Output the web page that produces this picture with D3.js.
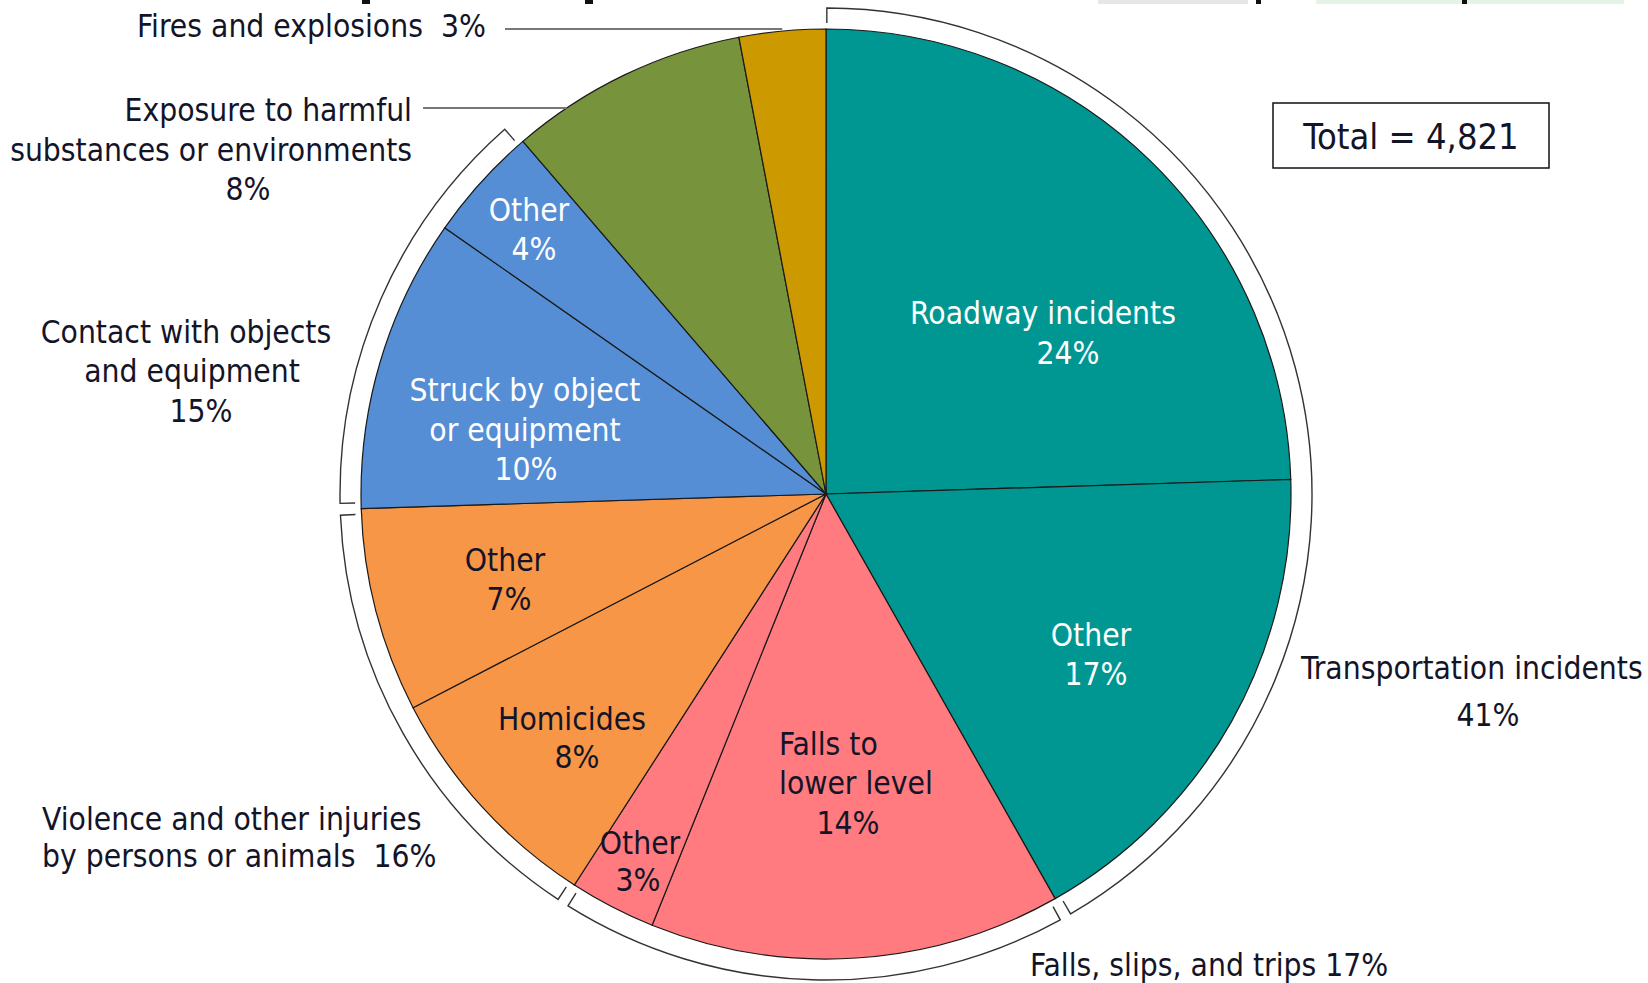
<!DOCTYPE html>
<html lang="en">
<head>
  <meta charset="UTF-8">
  <title>Fatal work injuries by event</title>
  <script src="https://d3js.org/d3.v7.min.js"></script>
  <style>
    body { margin: 0; background: #fff; }
    svg { display: block; }
    text {
      font-family: Tahoma, "DejaVu Sans Condensed", "DejaVu Sans", sans-serif;
      font-size: 31.5px;
      fill: #141428;
    }
    .slice { stroke: #1a1a1a; stroke-width: 1.2px; }
    .bracket { fill: none; stroke: #333; stroke-width: 1.4px; }
    .leader { fill: none; stroke: #777; stroke-width: 1.8px; }
  </style>
</head>
<body>
<svg width="1648" height="983"></svg>

<script>
  // ---- data ----
  const groups = ["Transportation incidents", "Falls, slips, and trips",
    "Violence and other injuries by persons or animals", "Contact with objects and equipment",
    "Exposure to harmful substances or environments", "Fires and explosions"];
  const groupPct = [41, 17, 16, 15, 8, 3];
  const groupColors = ["#009691", "#FF7B7F", "#F79646", "#558ED5", "#77933C", "#CC9900"];
  const bracketed = [0, 1, 2, 3]; // groups that get an outer bracket

  const slices = ["Roadway incidents", "Other", "Falls to lower level", "Other", "Homicides",
    "Other", "Struck by object or equipment", "Other",
    "Exposure to harmful substances or environments", "Fires and explosions"];
  const sliceGroup = [0, 0, 1, 1, 2, 2, 3, 3, 4, 5];
  const sliceValues = [24.5, 17.3, 14.3, 3.0, 8.3, 7.1, 10.2, 4.0, 8.3, 3.0];
  const slicePct = [24, 17, 14, 3, 8, 7, 10, 4, 8, 3];
  const total = 4821;

  const svg = d3.select("svg");
  const cx = 826, cy = 494, r = 465;
  const bracketR = 486, tickLen = 15;

  const g = svg.append("g").attr("transform", `translate(${cx},${cy})`);

  const pie = d3.pie().sort(null).value((d, i) => sliceValues[i]);
  const arcs = pie(slices);
  const arc = d3.arc().innerRadius(0).outerRadius(r);

  g.selectAll("path.slice")
    .data(arcs)
    .join("path")
    .attr("class", "slice")
    .attr("d", arc)
    .attr("fill", (d, i) => groupColors[sliceGroup[i]]);

  // brackets around groups
  const pad = 0.7 * Math.PI / 180;
  bracketed.forEach(gi => {
    const mine = arcs.filter((a, i) => sliceGroup[i] === gi);
    const a0 = d3.min(mine, a => a.startAngle) + (gi === 0 ? 0.1 * Math.PI / 180 : pad);
    const a1 = d3.max(mine, a => a.endAngle) - pad;
    const p = d3.path();
    const ri = bracketR - tickLen;
    p.moveTo(ri * Math.sin(a0), -ri * Math.cos(a0));
    p.lineTo(bracketR * Math.sin(a0), -bracketR * Math.cos(a0));
    p.arc(0, 0, bracketR, a0 - Math.PI / 2, a1 - Math.PI / 2);
    p.lineTo(ri * Math.sin(a1), -ri * Math.cos(a1));
    g.append("path").attr("class", "bracket").attr("d", p.toString());
  });

  // labels inside slices: lines with offsets from pie centre
  const innerLayout = [
    { fill: "#fff", lines: [["Roadway incidents", 217, -181], [slicePct[0] + "%", 242, -141]] },
    { fill: "#fff", lines: [["Other", 265, 141], [slicePct[1] + "%", 270, 180]] },
    { fill: "#141428", lines: [["Falls to", -47, 250, "start"], ["lower level", -47, 289, "start"], [slicePct[2] + "%", 22, 329]] },
    { fill: "#141428", lines: [["Other", -186, 349], [slicePct[3] + "%", -188, 386]] },
    { fill: "#141428", lines: [["Homicides", -254, 225], [slicePct[4] + "%", -249, 263]] },
    { fill: "#141428", lines: [["Other", -321, 66], [slicePct[5] + "%", -317, 105]] },
    { fill: "#fff", lines: [["Struck by object", -301, -104], ["or equipment", -301, -64], [slicePct[6] + "%", -300, -25]] },
    { fill: "#fff", lines: [["Other", -297, -284], [slicePct[7] + "%", -292, -245]] }
  ];
  innerLayout.forEach(lab => {
    lab.lines.forEach(([t, x, y, anchor]) => {
      g.append("text")
        .attr("x", x).attr("y", y)
        .attr("text-anchor", anchor || "middle")
        .attr("dominant-baseline", "central")
        .style("fill", lab.fill)
        .text(t);
    });
  });

  // leader lines for the two small unbracketed groups (slice index, start x, y)
  const leaders = [[9, 505 - cx, 29 - cy], [8, 423 - cx, 108 - cy]];
  leaders.forEach(([si, x0, y]) => {
    const a = arcs[si];
    const mid = (a.startAngle + a.endAngle) / 2;
    // end where the horizontal meets the circle, or at the slice's mid edge near the top
    const x2 = Math.abs(y) > r - 10 ? r * Math.sin(mid) : -Math.sqrt(r * r - y * y);
    g.append("line").attr("class", "leader")
      .attr("x1", x0).attr("y1", y)
      .attr("x2", x2).attr("y2", y);
  });

  // outer group labels (absolute positions)
  const outerLayout = [
    [`${groups[5]}  ${groupPct[5]}%`, 137, 26, "start"],
    ["Exposure to harmful", 412, 110, "end"],
    ["substances or environments", 412, 150, "end"],
    [`${groupPct[4]}%`, 248, 189, "middle"],
    ["Contact with objects", 186, 332, "middle"],
    ["and equipment", 192, 371, "middle"],
    [`${groupPct[3]}%`, 201, 411, "middle"],
    ["Violence and other injuries", 42, 819, "start"],
    [`by persons or animals  ${groupPct[2]}%`, 42, 856, "start"],
    [`${groups[1]} ${groupPct[1]}%`, 1030, 965, "start"],
    [groups[0], 1301, 668, "start"],
    [`${groupPct[0]}%`, 1488, 715, "middle"]
  ];
  svg.selectAll("text.outer")
    .data(outerLayout)
    .join("text")
    .attr("class", "outer")
    .attr("x", d => d[1]).attr("y", d => d[2])
    .attr("text-anchor", d => d[3])
    .attr("dominant-baseline", "central")
    .style("white-space", "pre")
    .text(d => d[0]);

  // total box
  svg.append("rect")
    .attr("x", 1273).attr("y", 103).attr("width", 276).attr("height", 65)
    .attr("fill", "#fff").attr("stroke", "#111").attr("stroke-width", 1.5);
  svg.append("text")
    .attr("x", 1411).attr("y", 136)
    .attr("text-anchor", "middle").attr("dominant-baseline", "central")
    .style("font-size", "36px")
    .text("Total = " + d3.format(",")(total));

  // bits of the cropped title showing at the very top edge
  svg.append("rect").attr("x", 1098).attr("y", 0).attr("width", 150).attr("height", 4).attr("fill", "#e6e6e6");
  svg.append("rect").attr("x", 1316).attr("y", 0).attr("width", 308).attr("height", 4).attr("fill", "#e4f3e6");
  [[362, 8], [585, 8], [1256, 5], [1462, 5]].forEach(([x, w]) => {
    svg.append("rect").attr("x", x).attr("y", 0).attr("width", w).attr("height", 4).attr("fill", "#111");
  });
</script>
</body>
</html>
